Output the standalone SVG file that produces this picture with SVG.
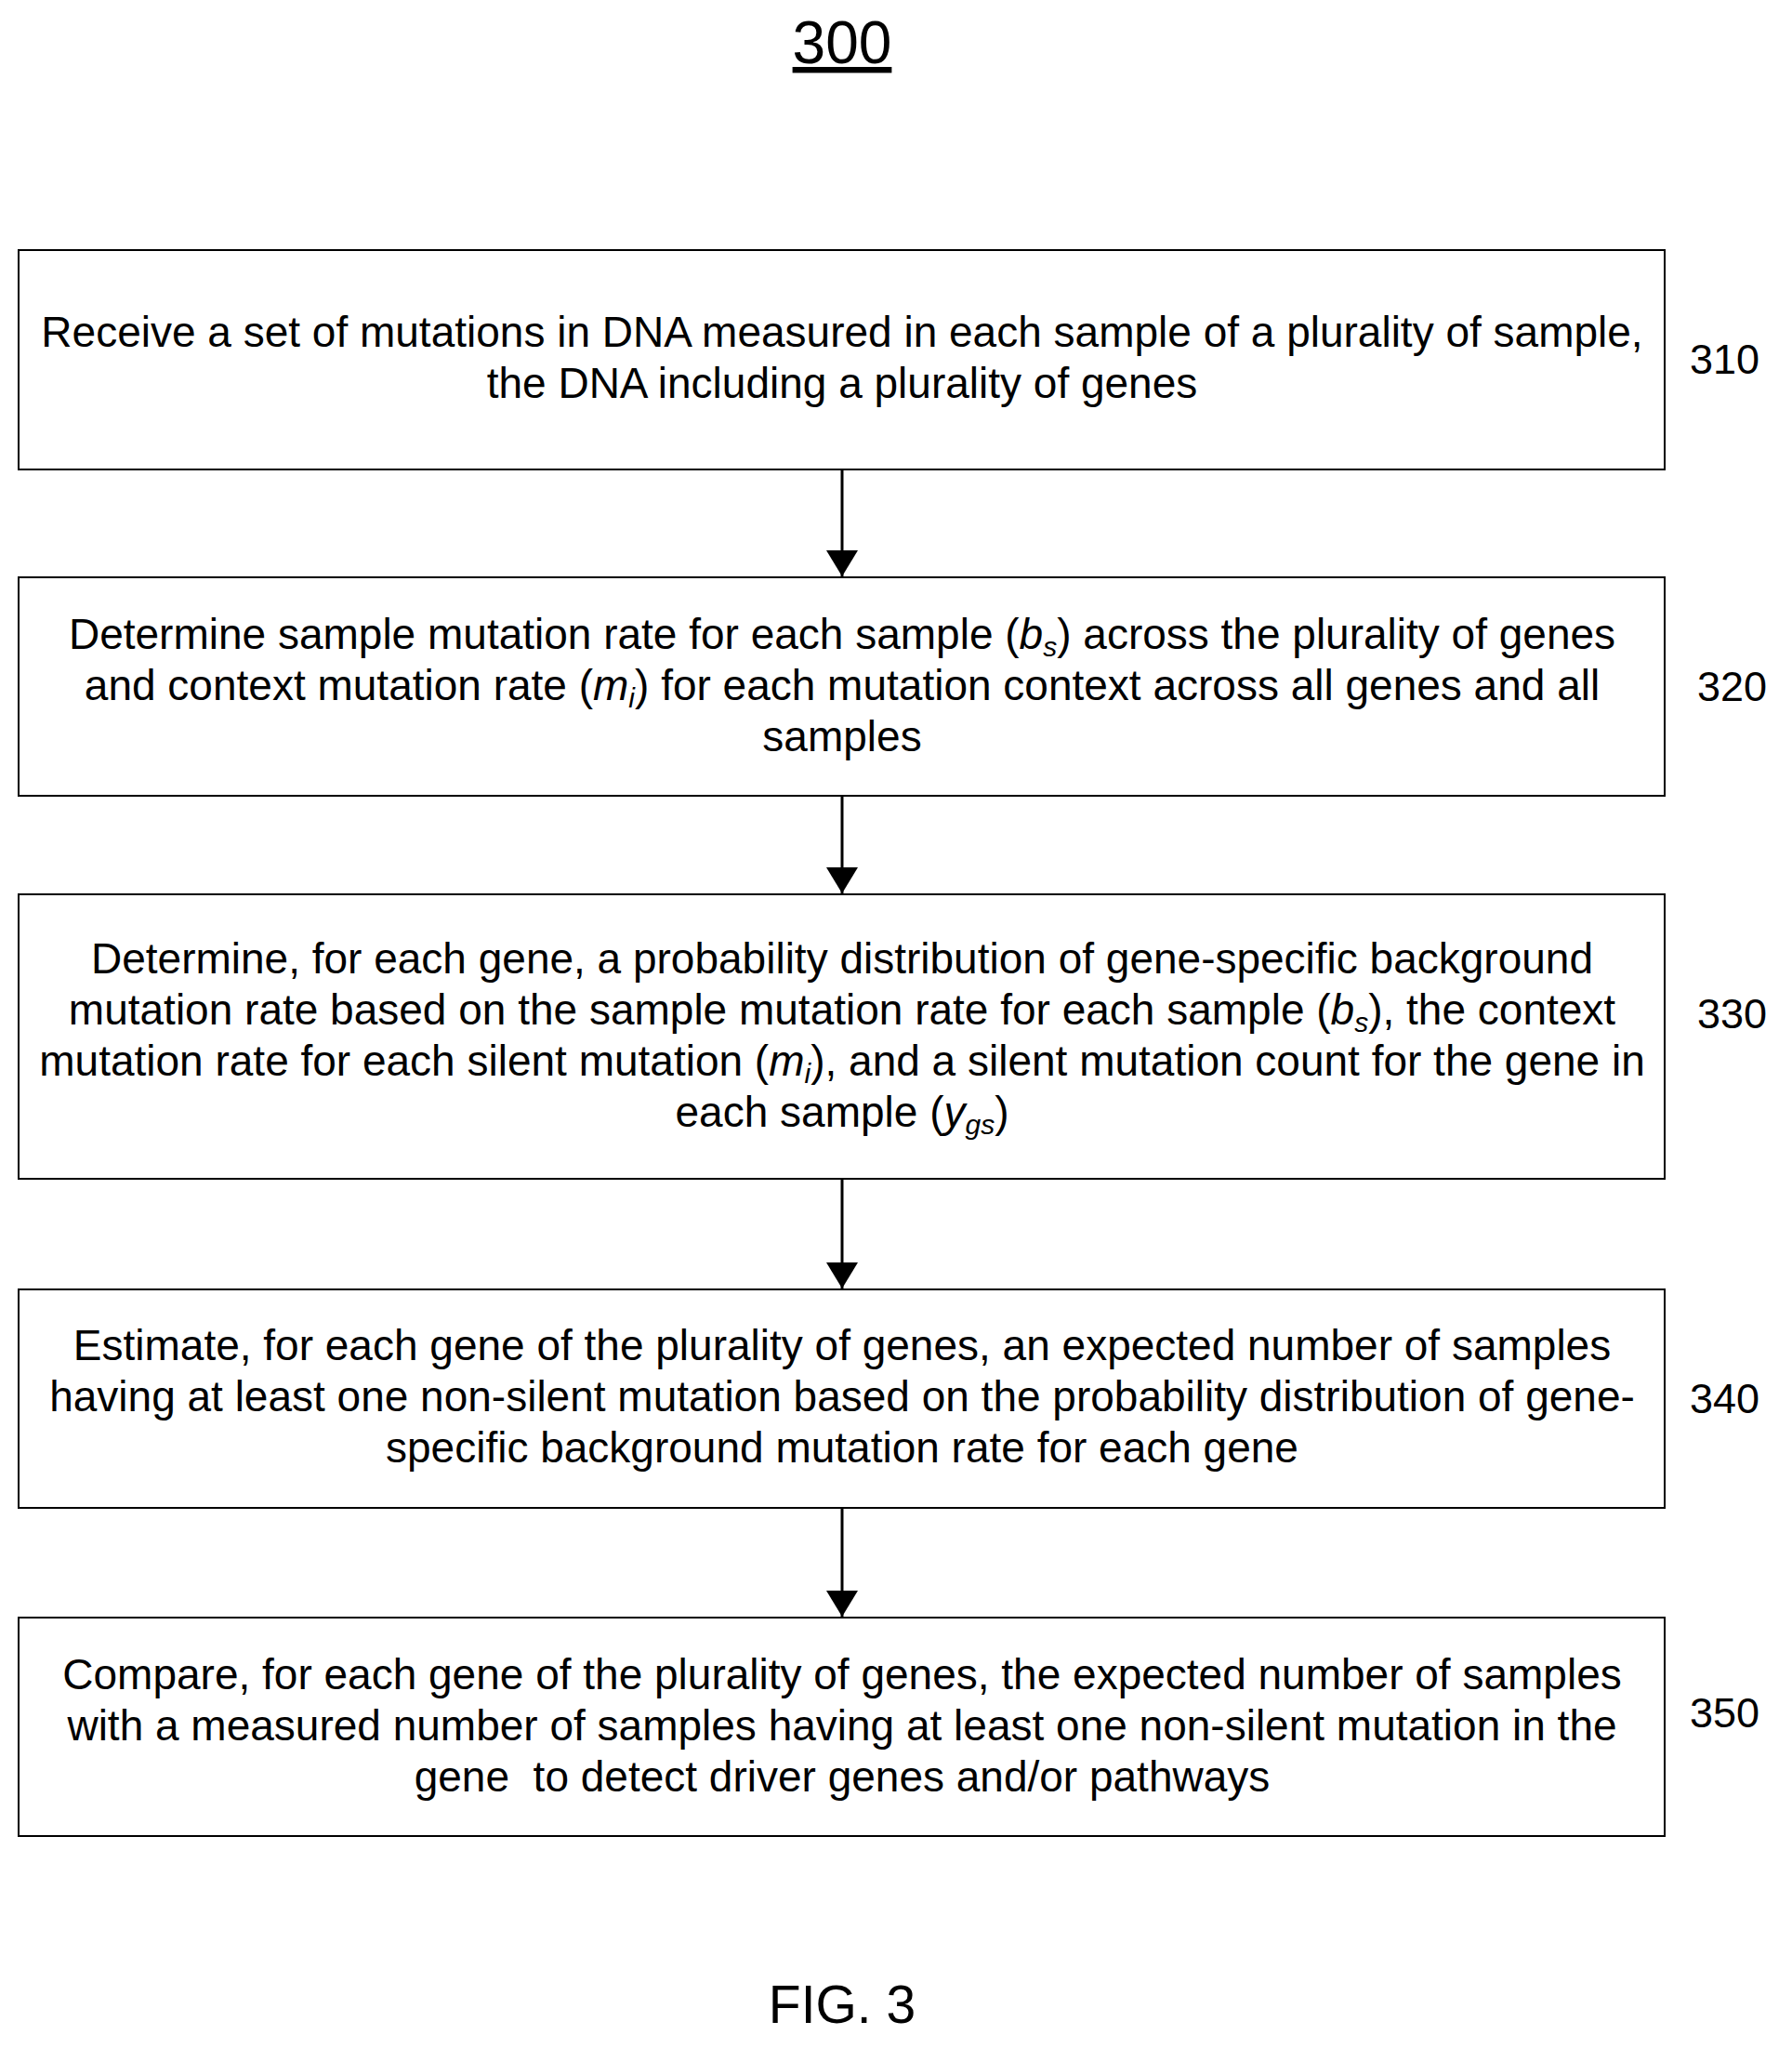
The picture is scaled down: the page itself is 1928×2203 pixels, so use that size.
<svg xmlns="http://www.w3.org/2000/svg" width="1928" height="2203" viewBox="0 0 1928 2203">
<style>
text{font-family:"Liberation Sans",Arial,sans-serif;fill:#000}
.t{font-size:46px;text-anchor:middle}
.l{font-size:45px}
.b{fill:#fff;stroke:#000;stroke-width:2}
.c{stroke:#000;stroke-width:3;fill:none}
.s{font-size:30px;font-style:italic}
</style>
<defs>
<marker id="ah" viewBox="0 0 10 10" refX="10" refY="5" markerWidth="28" markerHeight="34" orient="auto" markerUnits="userSpaceOnUse" preserveAspectRatio="none"><path d="M0,0L10,5L0,10z" fill="#000"/></marker></defs>
<text x="906" y="68" style="font-size:64px;text-anchor:middle;text-decoration:underline">300</text>
<g id="n310"><rect class="b" x="20" y="269" width="1771" height="236"/>
<text class="t" x="906" y="373">Receive a set of mutations in DNA measured in each sample of a plurality of sample,</text>
<text class="t" x="906" y="428">the DNA including a plurality of genes</text>
<text class="l" x="1818" y="402">310</text></g>
<g id="n320"><rect class="b" x="20" y="621" width="1771" height="235"/>
<text class="t" x="906" y="698">Determine sample mutation rate for each sample (<tspan font-style="italic">b</tspan><tspan class="s" dy="8">s</tspan><tspan dy="-8">) across the plurality of genes</tspan></text>
<text class="t" x="906" y="753">and context mutation rate (<tspan font-style="italic">m</tspan><tspan class="s" dy="8">i</tspan><tspan dy="-8">) for each mutation context across all genes and all</tspan></text>
<text class="t" x="906" y="808">samples</text>
<text class="l" x="1826" y="754">320</text></g>
<g id="n330"><rect class="b" x="20" y="962" width="1771" height="306"/>
<text class="t" x="906" y="1047">Determine, for each gene, a probability distribution of gene-specific background</text>
<text class="t" x="906" y="1102">mutation rate based on the sample mutation rate for each sample (<tspan font-style="italic">b</tspan><tspan class="s" dy="8">s</tspan><tspan dy="-8">), the context</tspan></text>
<text class="t" x="906" y="1157">mutation rate for each silent mutation (<tspan font-style="italic">m</tspan><tspan class="s" dy="8">i</tspan><tspan dy="-8">), and a silent mutation count for the gene in</tspan></text>
<text class="t" x="906" y="1212">each sample (<tspan font-style="italic">y</tspan><tspan class="s" dy="8">gs</tspan><tspan dy="-8">)</tspan></text>
<text class="l" x="1826" y="1106">330</text></g>
<g id="n340"><rect class="b" x="20" y="1387" width="1771" height="235"/>
<text class="t" x="906" y="1463">Estimate, for each gene of the plurality of genes, an expected number of samples</text>
<text class="t" x="906" y="1518">having at least one non-silent mutation based on the probability distribution of gene-</text>
<text class="t" x="906" y="1573">specific background mutation rate for each gene</text>
<text class="l" x="1818" y="1520">340</text></g>
<g id="n350"><rect class="b" x="20" y="1740" width="1771" height="235"/>
<text class="t" x="906" y="1817">Compare, for each gene of the plurality of genes, the expected number of samples</text>
<text class="t" x="906" y="1872">with a measured number of samples having at least one non-silent mutation in the</text>
<text class="t" x="906" y="1927">gene &#160;to detect driver genes and/or pathways</text>
<text class="l" x="1818" y="1858">350</text></g>
<g id="connectors">
<line class="c" x1="906" y1="505" x2="906" y2="620" marker-end="url(#ah)"/>
<line class="c" x1="906" y1="856" x2="906" y2="961" marker-end="url(#ah)"/>
<line class="c" x1="906" y1="1268" x2="906" y2="1386" marker-end="url(#ah)"/>
<line class="c" x1="906" y1="1622" x2="906" y2="1739" marker-end="url(#ah)"/>
</g>
<text x="906" y="2176" style="font-size:57px;text-anchor:middle">FIG. 3</text>
</svg>
